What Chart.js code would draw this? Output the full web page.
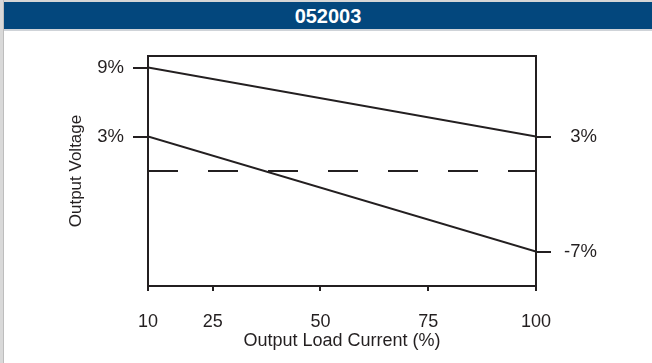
<!DOCTYPE html>
<html>
<head>
<meta charset="utf-8">
<script src="https://cdn.jsdelivr.net/npm/chart.js@4/dist/chart.umd.min.js"></script>
<style>
  html, body { margin:0; padding:0; width:652px; height:363px; overflow:hidden; background:#fff; }
  #strip-top { position:absolute; left:0; top:0; width:652px; height:2px; background:#d6d6d6; }
  #strip-left { position:absolute; left:0; top:0; width:4px; height:363px; background:#d9d9d9; border-right:1px solid #bdbdbd; box-sizing:border-box; }
  #bar { position:absolute; left:4px; top:2px; width:648px; height:27px; background:#03477d;
         border-bottom:2px solid #cfd3d8; color:#fff; text-align:center;
         font:bold 20px "Liberation Sans", Arial, sans-serif; line-height:28px; }
  #c { position:absolute; left:4px; top:31px; }
</style>
</head>
<body>
<div id="strip-top"></div>
<div id="strip-left"></div>
<div id="bar">052003</div>
<canvas id="c" width="648" height="332"></canvas>
<script>
/* ── data ─────────────────────────────────────────────── */
const LOAD       = [10, 100];          // output load current (%)
const UPPER      = [9, 3];             // upper limit (%)
const LOWER      = [3, -7];            // lower limit (%)
const NOMINAL    = [0, 0];             // nominal (dashed)
const X_TICKS    = [10, 25, 50, 75, 100];
const LEFT_TICKS = [9, 3];
const RIGHT_TICKS= [3, -7];

const INK  = "#231f20";
const FONT = "'Liberation Sans', Arial, sans-serif";

const pts = ys => LOAD.map((x, i) => ({ x, y: ys[i] }));
const fixTicks = list => scale => { scale.ticks = list.map(v => ({ value: v })); };
const pct = v => v + "%";

new Chart(document.getElementById("c"), {
  type: "line",
  data: {
    datasets: [
      { data: pts(UPPER),   borderColor: INK, borderWidth: 2, pointRadius: 0, yAxisID: "y" },
      { data: pts(LOWER),   borderColor: INK, borderWidth: 2, pointRadius: 0, yAxisID: "y" },
      { data: pts(NOMINAL), borderColor: INK, borderWidth: 2, pointRadius: 0, yAxisID: "y",
        borderDash: [30, 30] },
    ],
  },
  options: {
    responsive: false,
    animation: false,
    devicePixelRatio: 1,
    layout: { padding: { left: 0, top: 0, bottom: 0, right: 55 } },
    plugins: { legend: { display: false }, tooltip: { enabled: false } },
    scales: {
      x: {
        type: "linear", position: "bottom", min: 10, max: 100,
        afterBuildTicks: fixTicks(X_TICKS),
        afterFit: s => { s.height = 77; },
        ticks: { color: INK, font: { family: FONT, size: 18 }, padding: 20, maxRotation: 0 },
        grid: { drawOnChartArea: false, tickLength: 5, color: INK, lineWidth: 2 },
        border: { color: INK, width: 2 },
        title: { display: true, text: "Output Load Current (%)", color: INK,
                 font: { family: FONT, size: 18 }, padding: { top: 0, bottom: 11 } },
      },
      xTop: {
        type: "linear", position: "top", min: 10, max: 100,
        afterFit: s => { s.height = 25; },
        ticks: { display: false },
        grid: { display: false },
        border: { color: INK, width: 2 },
      },
      y: {
        type: "linear", position: "left", min: -10, max: 10,
        afterBuildTicks: fixTicks(LEFT_TICKS),
        afterFit: s => { s.width = 144; },
        ticks: { color: INK, font: { family: FONT, size: 18.5 }, padding: 9, callback: pct },
        grid: { drawOnChartArea: false, tickLength: 15, color: INK, lineWidth: 2 },
        border: { color: INK, width: 2 },
        title: { display: true, text: "Output Voltage", color: INK,
                 font: { family: FONT, size: 17 }, padding: { top: 62, bottom: 0 } },
      },
      y2: {
        type: "linear", position: "right", min: -10, max: 10,
        afterBuildTicks: fixTicks(RIGHT_TICKS),
        afterFit: s => { s.width = 61; },
        ticks: { color: INK, font: { family: FONT, size: 18.5 }, padding: 12,
                 crossAlign: "far", callback: pct },
        grid: { drawOnChartArea: false, tickLength: 15, color: INK, lineWidth: 2 },
        border: { color: INK, width: 2 },
      },
    },
  },
});
</script>
</body>
</html>
